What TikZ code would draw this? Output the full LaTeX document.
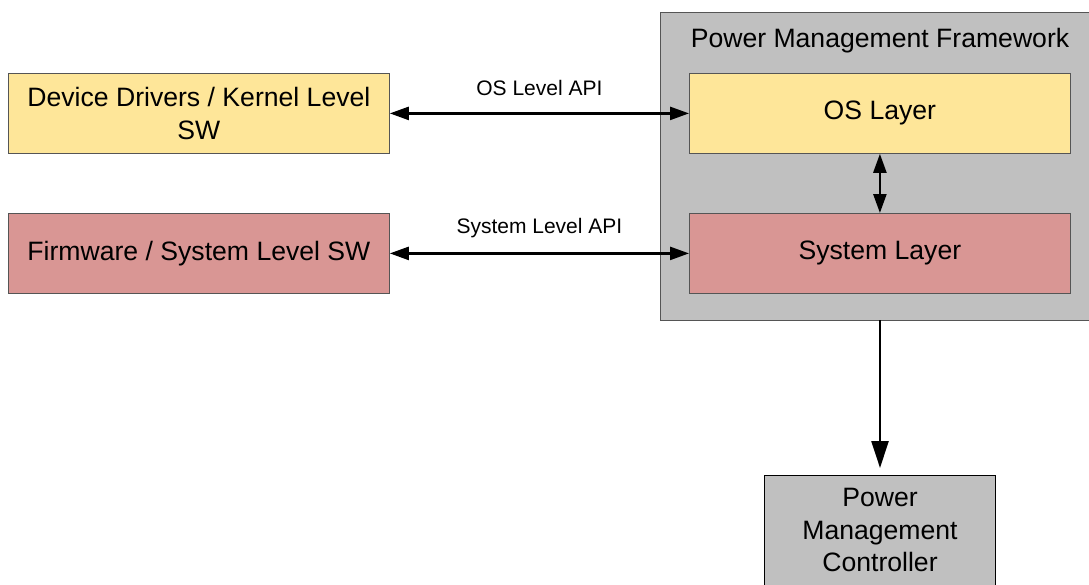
\documentclass[tikz,border=0pt]{standalone}
\usepackage{fontspec}
\setmainfont{Liberation Sans}
\usetikzlibrary{arrows.meta}
\definecolor{osyellow}{HTML}{FEE699}
\definecolor{sysred}{HTML}{D99694}
\definecolor{frame}{HTML}{C0C0C0}
\definecolor{edge}{HTML}{555555}
\begin{document}
\begin{tikzpicture}[x=1pt,y=-1pt,
  box/.style={draw=edge,line width=0.8pt,minimum width=381pt,minimum height=80pt,
    anchor=north west,inner sep=0pt,align=center,font=\fontsize{26.6}{33}\selectfont},
  link/.style={line width=2.4pt,{Triangle[length=19pt,width=13pt]}-{Triangle[length=19pt,width=13pt]}},
  lbl/.style={font=\fontsize{21}{24}\selectfont,yshift=25pt}]
\useasboundingbox (0,0) rectangle (1089,584);
% framework container
\node[draw=edge,fill=frame,line width=1pt,minimum width=440pt,minimum height=308pt,
  anchor=north west,inner sep=0pt] (pmf) at (660,12) {};
\node[font=\fontsize{26.6}{30}\selectfont,anchor=center] (pmft) at (880,41) {Power Management Framework};
% layers inside the framework
\node[box,fill=osyellow] (os) at (689,73) {OS Layer};
\node[box,fill=sysred] (sys) at (689,213) {System Layer};
% software boxes
\node[box,fill=osyellow] (dd) at (8,73) {Device Drivers / Kernel Level\\SW};
\node[box,fill=sysred] (fw) at (8,213) {Firmware / System Level SW};
% controller
\node[draw=black,fill=frame,line width=1.2pt,minimum width=231pt,minimum height=130pt,
  anchor=north west,inner sep=0pt] (pmc) at (764,475) {};
\node[align=center,font=\fontsize{26.6}{32.5}\selectfont,anchor=north] (pmct) at (880,485) {Power\\Management\\Controller};
% connectors
\draw[link] (dd.east) -- node[lbl] {OS Level API} (os.west);
\draw[link] (fw.east) -- node[lbl] {System Level API} (sys.west);
\draw[link] (os.south) -- (sys.south |- sys.north);
\coordinate (pmfbot) at (880,320);
\draw[line width=2.4pt,-{Triangle[length=27pt,width=17pt]}] (pmfbot) -- (880,468);
\end{tikzpicture}
\end{document}
